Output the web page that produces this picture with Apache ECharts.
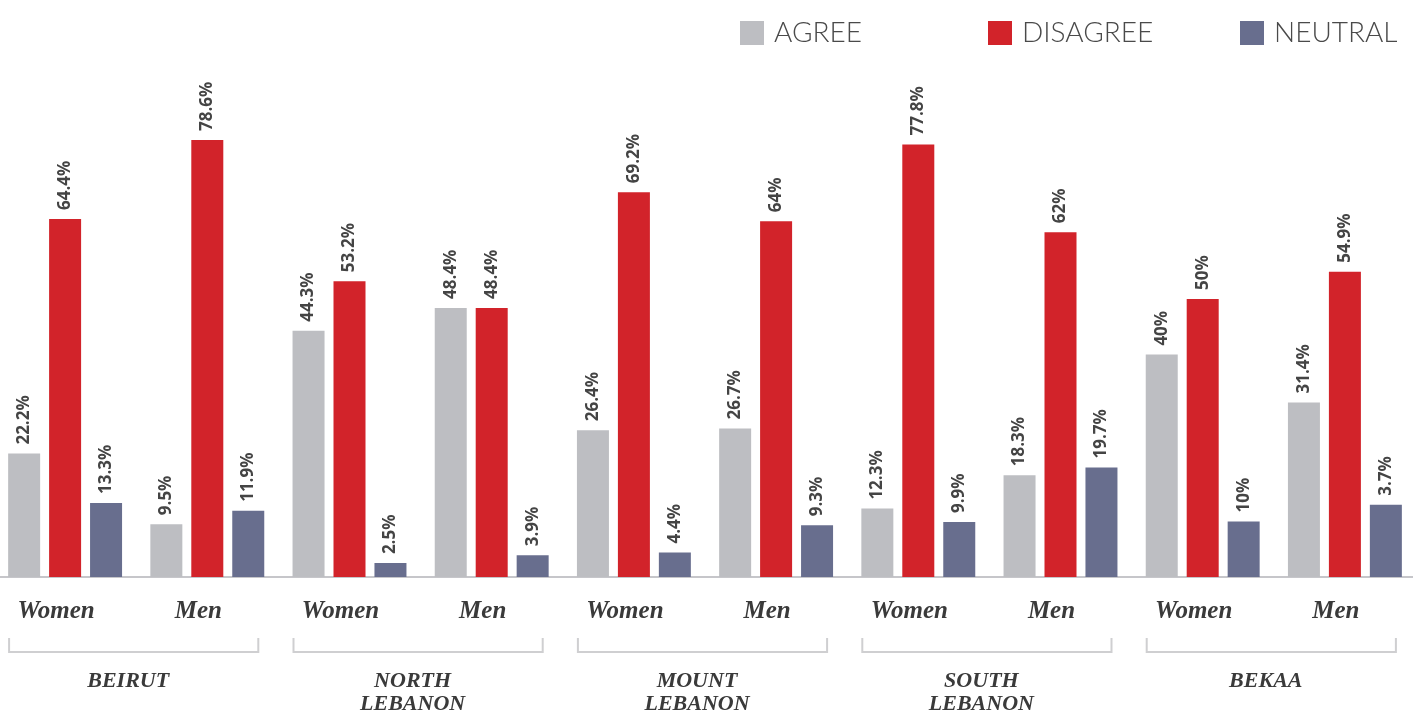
<!DOCTYPE html>
<html><head><meta charset="utf-8">
<script src="https://cdn.jsdelivr.net/npm/echarts@6/dist/echarts.min.js"></script>
<style>html,body{margin:0;padding:0;background:#fff;overflow:hidden;width:1413px;height:717px;position:relative}#c{position:absolute;left:-6px;top:0;width:1422px;height:717px}</style>
</head><body><div id="c"></div>
<script>
const categories = ['Women','Men','Women','Men','Women','Men','Women','Men','Women','Men'];
const regions = ['BEIRUT','NORTH\nLEBANON','MOUNT\nLEBANON','SOUTH\nLEBANON','BEKAA'];
const seriesNames = ['AGREE','DISAGREE','NEUTRAL'];
const agree = [22.2, 9.5, 44.3, 48.4, 26.4, 26.7, 12.3, 18.3, 40, 31.4];
const disagree = [64.4, 78.6, 53.2, 48.4, 69.2, 64, 77.8, 62, 50, 54.9];
const neutral = [13.3, 11.9, 2.5, 3.9, 4.4, 9.3, 9.9, 19.7, 10, 13.0];
const agreeLabels = ['22.2%','9.5%','44.3%','48.4%','26.4%','26.7%','12.3%','18.3%','40%','31.4%'];
const disagreeLabels = ['64.4%','78.6%','53.2%','48.4%','69.2%','64%','77.8%','62%','50%','54.9%'];
const neutralLabels = ['13.3%','11.9%','2.5%','3.9%','4.4%','9.3%','9.9%','19.7%','10%','3.7%'];

const colors = ['#bdbec2', '#d2232a', '#686e8e'];
const chart = echarts.init(document.getElementById('c'));

function mkSeries(name, data, labels, color) {
  return {
    type: 'bar', name: name, data: data,
    barWidth: 32, barGap: '28%',
    itemStyle: { color: color },
    label: {
      show: true, position: 'top', rotate: 90, align: 'left', verticalAlign: 'middle',
      distance: 9, formatter: p => labels[p.dataIndex],
      fontFamily: 'Open Sans', fontWeight: 'bold', fontSize: 17, color: '#444'
    }
  };
}

const legendLefts = [741, 989, 1241];
chart.setOption({
  animation: false,
  grid: { left: 0, right: 0, top: 21, bottom: 140 },
  legend: seriesNames.map((n, i) => ({
    data: [n], left: legendLefts[i], top: 14, itemWidth: 24, itemHeight: 24, icon: 'rect',
    selectedMode: false,
    textStyle: { fontFamily: 'Lato', fontWeight: 300, fontSize: 28, color: '#4a4a4a', padding: [0, 0, 0, 5] }
  })),
  xAxis: [
    {
      type: 'category', data: categories,
      axisLine: { lineStyle: { color: '#c6c6ca', width: 2 } },
      axisTick: { alignWithLabel: true, length: 10, lineStyle: { color: '#c6c6ca', width: 2 } },
      axisLabel: { interval: 0, margin: 22, padding: [0, 18, 0, 0], fontFamily: 'Liberation Serif', fontStyle: 'italic', fontWeight: 'bold', fontSize: 25, color: '#3a3a3a' }
    },
    {
      type: 'category', data: regions, position: 'bottom', offset: 85,
      axisLine: { show: false }, axisTick: { show: false },
      axisLabel: { interval: 0, margin: 8, lineHeight: 23, padding: [0, 16, 0, 0], fontFamily: 'Liberation Serif', fontStyle: 'italic', fontWeight: 'bold', fontSize: 22, color: '#3a3a3a' }
    }
  ],
  yAxis: { type: 'value', min: 0, max: 100, show: false },
  series: [
    mkSeries(seriesNames[0], agree, agreeLabels, colors[0]),
    mkSeries(seriesNames[1], disagree, disagreeLabels, colors[1]),
    mkSeries(seriesNames[2], neutral, neutralLabels, colors[2])
  ]
});

const y0 = chart.convertToPixel({ yAxisIndex: 0 }, 0);
const graphics = regions.map((r, i) => {
  const xl = chart.convertToPixel({ xAxisIndex: 0 }, 2 * i) - 56;
  const xr = chart.convertToPixel({ xAxisIndex: 0 }, 2 * i + 1) + 51;
  return {
    type: 'polyline',
    shape: { points: [[xl, y0 + 61], [xl, y0 + 75], [xr, y0 + 75], [xr, y0 + 61]] },
    style: { stroke: '#cfcfd1', lineWidth: 2, fill: null }
  };
});
chart.setOption({ graphic: graphics });
</script>
</body></html>
